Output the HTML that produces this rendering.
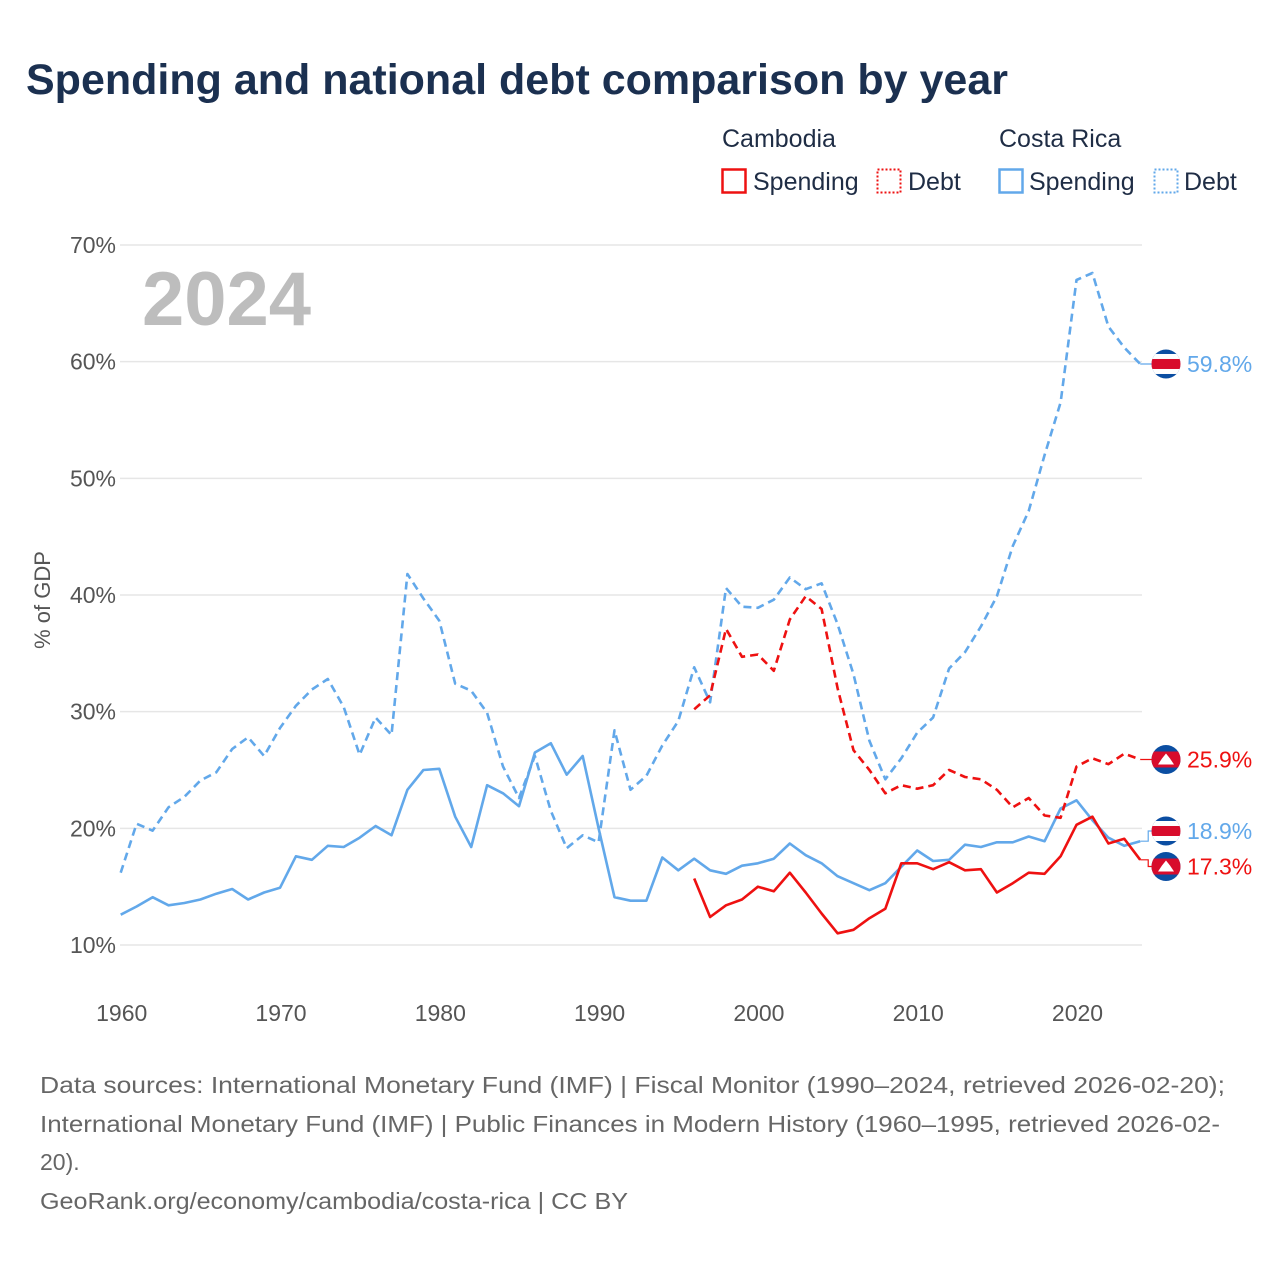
<!DOCTYPE html>
<html><head><meta charset="utf-8"><style>
html,body{margin:0;padding:0;background:#fff;}
svg{display:block;font-family:"Liberation Sans",sans-serif;}
</style></head><body>
<svg id="chart" width="1280" height="1280" viewBox="0 0 1280 1280">
<text x="26" y="94" font-size="43" font-weight="bold" fill="#1b3050" textLength="982" lengthAdjust="spacingAndGlyphs">Spending and national debt comparison by year</text>
<g font-size="25" fill="#1f2d45">
<text x="722" y="147">Cambodia</text>
<rect x="722.5" y="169.5" width="23" height="23" fill="none" stroke="#ee1111" stroke-width="2.5"/>
<text x="753" y="190">Spending</text>
<rect x="877.5" y="169.5" width="23" height="23" fill="none" stroke="#ee1111" stroke-width="2" stroke-dasharray="2,2"/>
<text x="908" y="190">Debt</text>
<text x="999" y="147">Costa Rica</text>
<rect x="999.5" y="169.5" width="23" height="23" fill="none" stroke="#62a8ea" stroke-width="2.5"/>
<text x="1029" y="190">Spending</text>
<rect x="1154.5" y="169.5" width="23" height="23" fill="none" stroke="#62a8ea" stroke-width="2" stroke-dasharray="2,2"/>
<text x="1184" y="190">Debt</text>
</g>
<g id="grid"></g>
<text x="142" y="325" font-size="76" font-weight="bold" fill="#bdbdbd">2024</text>
<text transform="translate(50,600) rotate(-90)" text-anchor="middle" font-size="22" fill="#555">% of GDP</text>
<g id="series"></g>
<g id="ends"></g>
<g font-size="23" fill="#666">
<text x="40" y="1093" textLength="1185" lengthAdjust="spacingAndGlyphs">Data sources: International Monetary Fund (IMF) | Fiscal Monitor (1990–2024, retrieved 2026-02-20);</text>
<text x="40" y="1132" textLength="1180" lengthAdjust="spacingAndGlyphs">International Monetary Fund (IMF) | Public Finances in Modern History (1960–1995, retrieved 2026-02-</text>
<text x="40" y="1170">20).</text>
<text x="40" y="1209" textLength="588" lengthAdjust="spacingAndGlyphs">GeoRank.org/economy/cambodia/costa-rica | CC BY</text>
</g>
</svg>
<script>
const crYears = [];for (let y=1960;y<=2024;y++) crYears.push(y);
const khYears = [];for (let y=1996;y<=2024;y++) khYears.push(y);
const crSpending = [12.6,13.3,14.1,13.4,13.6,13.9,14.4,14.8,13.9,14.5,14.9,17.6,17.3,18.5,18.4,19.2,20.2,19.4,23.3,25.0,25.1,21.0,18.4,23.7,23.0,21.9,26.5,27.3,24.6,26.2,20.0,14.1,13.8,13.8,17.5,16.4,17.4,16.4,16.1,16.8,17.0,17.4,18.7,17.7,17.0,15.9,15.3,14.7,15.3,16.7,18.1,17.2,17.3,18.6,18.4,18.8,18.8,19.3,18.9,21.7,22.4,20.7,19.2,18.5,18.9];
const crDebt = [16.2,20.4,19.8,21.8,22.7,24.1,24.8,26.8,27.8,26.2,28.6,30.5,31.9,32.8,30.4,26.3,29.5,28.0,41.8,39.7,37.8,32.4,31.8,29.9,25.3,22.6,26.2,21.5,18.3,19.4,18.8,28.4,23.3,24.5,27.1,29.2,33.8,30.8,40.6,39.0,38.9,39.6,41.5,40.5,41.0,37.5,33.2,27.5,24.2,26.0,28.2,29.5,33.7,35.1,37.3,39.9,44.2,47.2,52.0,56.5,67.0,67.6,63.0,61.2,59.8];
const khSpending = [15.7,12.4,13.4,13.9,15.0,14.6,16.2,14.5,12.7,11.0,11.3,12.3,13.1,17.0,17.0,16.5,17.1,16.4,16.5,14.5,15.3,16.2,16.1,17.6,20.3,21.0,18.7,19.1,17.3];
const khDebt = [30.2,31.4,37.1,34.7,34.9,33.5,37.9,39.9,38.8,32.0,26.7,25.0,23.0,23.7,23.4,23.7,25.0,24.4,24.2,23.3,21.8,22.6,21.1,20.9,25.3,26.0,25.5,26.4,25.9];
const yTicks = [10,20,30,40,50,60,70];
const xTicks = [1960,1970,1980,1990,2000,2010,2020];
const endLabels = ["59.8%","25.9%","18.9%","17.3%"];

const NS="http://www.w3.org/2000/svg";
const xs = yr => 120.7 + (yr-1960)*15.93;
const ys = v => 945 - (v-10)*11.667;
function mk(tag, attrs, parent){const e=document.createElementNS(NS,tag);for(const k in attrs)e.setAttribute(k,attrs[k]);parent.appendChild(e);return e;}
const grid=document.getElementById('grid');


yTicks.forEach(t=>{
  const l=mk('line',{x1:120,x2:1142,y1:ys(t),y2:ys(t),stroke:'#e6e6e6','stroke-width':1.5},grid);
  
  
  const tx=mk('text',{x:116,y:ys(t)+8,'text-anchor':'end','font-size':23,fill:'#555'},grid);
  tx.textContent=t+'%';
  
  
});
xTicks.forEach(t=>{
  const tx=mk('text',{x:xs(t)+1,y:1021,'text-anchor':'middle','font-size':23,fill:'#555'},grid);
  tx.textContent=t;
  
  
});
const sg=document.getElementById('series');


function line(years, vals, color, dashed, name){
  const d=vals.map((v,i)=>(i?'L':'M')+xs(years[i]).toFixed(1)+','+ys(v).toFixed(1)).join(' ');
  const p=mk('path',{d:d,fill:'none',stroke:color,'stroke-width':2.6,'stroke-linejoin':'round'},sg);
  if(dashed)p.setAttribute('stroke-dasharray','8,5');
  
  
}
const BLUE='#62a8ea', RED='#ee1111';
line(crYears,crDebt,BLUE,true,'costa-rica-debt-line');
line(crYears,crSpending,BLUE,false,'costa-rica-spending-line');
line(khYears,khDebt,RED,true,'cambodia-debt-line');
line(khYears,khSpending,RED,false,'cambodia-spending-line');

const eg=document.getElementById('ends');


const endVals=[crDebt[crDebt.length-1],khDebt[khDebt.length-1],crSpending[crSpending.length-1],khSpending[khSpending.length-1]];
const endCols=[BLUE,RED,BLUE,RED];
const endFlag=['cr','kh','cr','kh'];
const endY=[ys(endVals[0]),ys(endVals[1]),831,866.5];
const endNames=['costa-rica-debt','cambodia-debt','costa-rica-spending','cambodia-spending'];
endVals.forEach((v,i)=>{
  const x0=xs(2024), y0=ys(v), fy=endY[i], fx=1166;
  const c=mk('path',{d:`M${x0},${y0} L${x0+8},${y0} L${x0+8},${fy} L${fx},${fy}`,fill:'none',stroke:endCols[i],'stroke-width':1.2},eg);
  
  
  const g=mk('g',{},eg);
  
  
  const id='clip'+i;
  const cp=mk('clipPath',{id:id},g);mk('circle',{cx:fx,cy:fy,r:14.5},cp);
  const fg=mk('g',{'clip-path':`url(#${id})`},g);
  if(endFlag[i]==='cr'){
    mk('rect',{x:fx-15,y:fy-15,width:30,height:30,fill:'#0b4ea2'},fg);
    mk('rect',{x:fx-15,y:fy-10,width:30,height:20,fill:'#ffffff'},fg);
    mk('rect',{x:fx-15,y:fy-5,width:30,height:10,fill:'#d80c2c'},fg);
  } else {
    mk('rect',{x:fx-15,y:fy-15,width:30,height:30,fill:'#0b4ea2'},fg);
    mk('rect',{x:fx-15,y:fy-8,width:30,height:16,fill:'#d80c2c'},fg);
    mk('path',{d:`M${fx-8},${fy+5} L${fx-4},${fy-1} L${fx},${fy-6} L${fx+4},${fy-1} L${fx+8},${fy+5} Z`,fill:'#ffffff'},fg);
  }
  const t=mk('text',{x:1187,y:fy+8,'font-size':23,fill:endCols[i]},eg);
  t.textContent=endLabels[i];
  
  
});
</script>
</body></html>
